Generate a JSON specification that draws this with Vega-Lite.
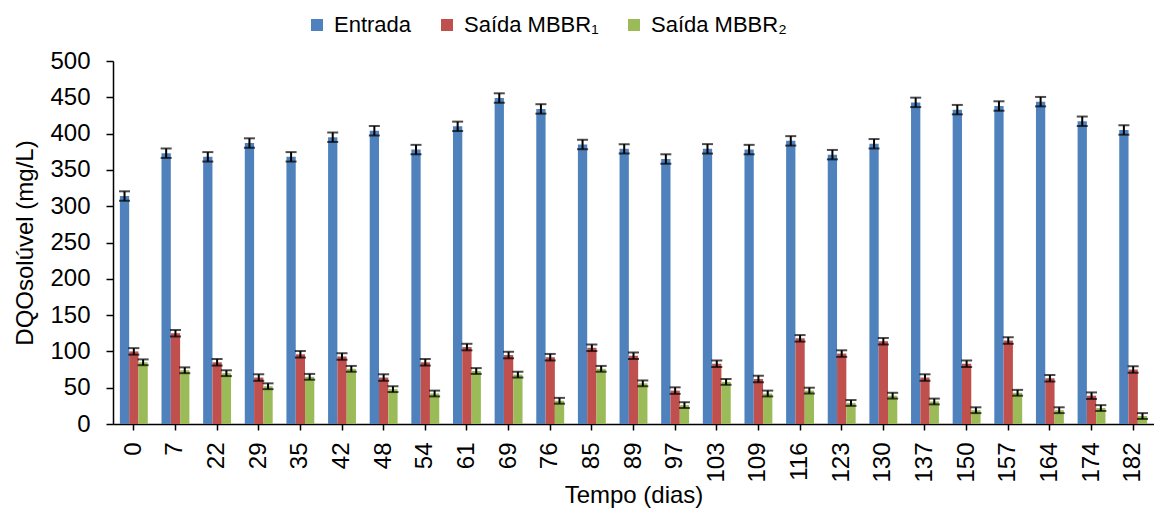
{
  "$schema": "https://vega.github.io/schema/vega-lite/v6.json",
  "width": 1041,
  "height": 363,
  "autosize": {"type": "none"},
  "padding": {"left": 113, "top": 61, "right": 0, "bottom": 85},
  "config": {
    "font": "Liberation Sans",
    "view": {"stroke": null},
    "axis": {"labelFont": "Liberation Sans", "titleFont": "Liberation Sans", "labelColor": "#000", "titleColor": "#000", "domainColor": "#000", "tickColor": "#000", "titleFontWeight": "normal", "grid": false}
  },
  "data": {"values": [
    {"d":0,"s":"Entrada","v":314,"e":6.5},{"d":0,"s":"Saída MBBR₁","v":100,"e":4.5},{"d":0,"s":"Saída MBBR₂","v":85,"e":4},
    {"d":7,"s":"Entrada","v":373,"e":6.5},{"d":7,"s":"Saída MBBR₁","v":125,"e":4.5},{"d":7,"s":"Saída MBBR₂","v":74,"e":4},
    {"d":22,"s":"Entrada","v":368,"e":6.5},{"d":22,"s":"Saída MBBR₁","v":85,"e":4.5},{"d":22,"s":"Saída MBBR₂","v":70,"e":4},
    {"d":29,"s":"Entrada","v":387,"e":6.5},{"d":29,"s":"Saída MBBR₁","v":64,"e":4.5},{"d":29,"s":"Saída MBBR₂","v":52,"e":4},
    {"d":35,"s":"Entrada","v":368,"e":6.5},{"d":35,"s":"Saída MBBR₁","v":96,"e":4.5},{"d":35,"s":"Saída MBBR₂","v":65,"e":4},
    {"d":42,"s":"Entrada","v":395,"e":6.5},{"d":42,"s":"Saída MBBR₁","v":93,"e":4.5},{"d":42,"s":"Saída MBBR₂","v":76,"e":4},
    {"d":48,"s":"Entrada","v":404,"e":6.5},{"d":48,"s":"Saída MBBR₁","v":64,"e":4.5},{"d":48,"s":"Saída MBBR₂","v":48,"e":4},
    {"d":54,"s":"Entrada","v":378,"e":6.5},{"d":54,"s":"Saída MBBR₁","v":85,"e":4.5},{"d":54,"s":"Saída MBBR₂","v":42,"e":4},
    {"d":61,"s":"Entrada","v":410,"e":6.5},{"d":61,"s":"Saída MBBR₁","v":106,"e":4.5},{"d":61,"s":"Saída MBBR₂","v":73,"e":4},
    {"d":69,"s":"Entrada","v":449,"e":6.5},{"d":69,"s":"Saída MBBR₁","v":95,"e":4.5},{"d":69,"s":"Saída MBBR₂","v":68,"e":4},
    {"d":76,"s":"Entrada","v":434,"e":6.5},{"d":76,"s":"Saída MBBR₁","v":92,"e":4.5},{"d":76,"s":"Saída MBBR₂","v":32,"e":4},
    {"d":85,"s":"Entrada","v":385,"e":6.5},{"d":85,"s":"Saída MBBR₁","v":105,"e":4.5},{"d":85,"s":"Saída MBBR₂","v":76,"e":4},
    {"d":89,"s":"Entrada","v":379,"e":6.5},{"d":89,"s":"Saída MBBR₁","v":94,"e":4.5},{"d":89,"s":"Saída MBBR₂","v":56,"e":4},
    {"d":97,"s":"Entrada","v":365,"e":6.5},{"d":97,"s":"Saída MBBR₁","v":46,"e":4.5},{"d":97,"s":"Saída MBBR₂","v":26,"e":4},
    {"d":103,"s":"Entrada","v":379,"e":6.5},{"d":103,"s":"Saída MBBR₁","v":83,"e":4.5},{"d":103,"s":"Saída MBBR₂","v":58,"e":4},
    {"d":109,"s":"Entrada","v":378,"e":6.5},{"d":109,"s":"Saída MBBR₁","v":62,"e":4.5},{"d":109,"s":"Saída MBBR₂","v":42,"e":4},
    {"d":116,"s":"Entrada","v":390,"e":6.5},{"d":116,"s":"Saída MBBR₁","v":118,"e":4.5},{"d":116,"s":"Saída MBBR₂","v":46,"e":4},
    {"d":123,"s":"Entrada","v":371,"e":6.5},{"d":123,"s":"Saída MBBR₁","v":97,"e":4.5},{"d":123,"s":"Saída MBBR₂","v":29,"e":4},
    {"d":130,"s":"Entrada","v":386,"e":6.5},{"d":130,"s":"Saída MBBR₁","v":114,"e":4.5},{"d":130,"s":"Saída MBBR₂","v":39,"e":4},
    {"d":137,"s":"Entrada","v":443,"e":6.5},{"d":137,"s":"Saída MBBR₁","v":64,"e":4.5},{"d":137,"s":"Saída MBBR₂","v":31,"e":4},
    {"d":150,"s":"Entrada","v":433,"e":6.5},{"d":150,"s":"Saída MBBR₁","v":83,"e":4.5},{"d":150,"s":"Saída MBBR₂","v":19,"e":4},
    {"d":157,"s":"Entrada","v":438,"e":6.5},{"d":157,"s":"Saída MBBR₁","v":115,"e":4.5},{"d":157,"s":"Saída MBBR₂","v":43,"e":4},
    {"d":164,"s":"Entrada","v":444,"e":6.5},{"d":164,"s":"Saída MBBR₁","v":63,"e":4.5},{"d":164,"s":"Saída MBBR₂","v":19,"e":4},
    {"d":174,"s":"Entrada","v":417,"e":6.5},{"d":174,"s":"Saída MBBR₁","v":39,"e":4.5},{"d":174,"s":"Saída MBBR₂","v":22,"e":4},
    {"d":182,"s":"Entrada","v":405,"e":6.5},{"d":182,"s":"Saída MBBR₁","v":75,"e":4.5},{"d":182,"s":"Saída MBBR₂","v":11,"e":4}
  ]},
  "encoding": {
    "x": {
      "field": "d", "type": "ordinal",
      "scale": {"paddingInner": 0.33, "paddingOuter": 0.165},
      "axis": {"title": "Tempo (dias)", "titleFontSize": 24, "titlePadding": 1, "labelFontSize": 24, "labelAngle": -90, "labelPadding": 12, "tickSize": 6, "domainWidth": 1.5, "tickWidth": 1.5}
    },
    "xOffset": {"field": "s", "type": "nominal", "sort": ["Entrada", "Saída MBBR₁", "Saída MBBR₂"], "scale": {"paddingInner": 0, "paddingOuter": 0}},
    "y": {
      "field": "v", "type": "quantitative",
      "scale": {"domain": [0, 500]},
      "axis": {"title": "DQOsolúvel (mg/L)", "titleFontSize": 24, "titlePadding": 12, "labelFontSize": 24, "labelPadding": 16, "values": [0,50,100,150,200,250,300,350,400,450,500], "tickSize": 7, "domainWidth": 1.5, "tickWidth": 1.5}
    }
  },
  "layer": [
    {
      "mark": {"type": "bar"},
      "encoding": {
        "color": {
          "field": "s", "type": "nominal",
          "scale": {"domain": ["Entrada", "Saída MBBR₁", "Saída MBBR₂"], "range": ["#4F81BD", "#C0504D", "#9BBB59"]},
          "legend": {"title": null, "orient": "none", "direction": "horizontal", "legendX": 193, "legendY": -47, "symbolType": "square", "symbolSize": 144, "symbolStrokeWidth": 0, "symbolOpacity": 1, "labelFontSize": 22, "labelFont": "Liberation Sans", "labelColor": "#000", "columnPadding": 24, "labelOffset": 6}
        }
      }
    },
    {
      "mark": {"type": "errorbar", "ticks": {"size": 11, "thickness": 2, "color": "#000"}, "rule": {"strokeWidth": 2, "color": "#000"}, "color": "#000"},
      "encoding": {
        "yError": {"field": "e"}
      }
    }
  ]
}
